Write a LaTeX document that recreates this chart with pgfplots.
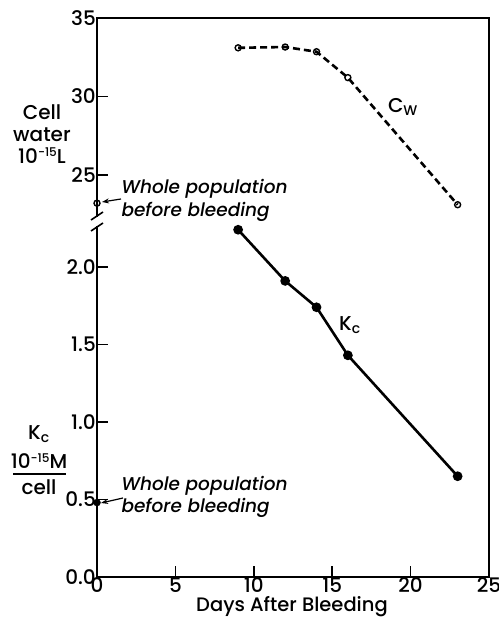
\documentclass[border=0pt]{standalone}
\usepackage{fontspec}
\IfFontExistsTF{Poppins Medium}{\setmainfont{Poppins Medium}}{\setmainfont{Poppins}}
\usepackage{pgfplots}
\pgfplotsset{compat=1.18}
\usetikzlibrary{arrows.meta}
\begin{document}
\begin{tikzpicture}
\useasboundingbox (0pt,0pt) rectangle (498pt,618pt);
\pgfplotsset{
  myaxis/.style={
    scale only axis, width=392pt, xmin=0, xmax=25,
    clip=false,
    axis line style={draw=none},
    /pgf/number format/assume math mode=true,
    tick label style={font=\fontsize{20}{20}\selectfont},
    tick align=inside,
    major tick length=11pt,
    tick style={line width=1.6pt,black},
    xtick pos=lower, ytick pos=left,
  }
}
% lower axis (K_c)
\begin{axis}[myaxis, at={(97pt,41pt)}, anchor=south west, height=355pt,
  ymin=0, ymax=2.29,
  xtick={0,5,10,15,20,25},
  ytick={0,0.5,1,1.5,2}, yticklabels={0.0,0.5,1.0,1.5,2.0},
  yticklabel style={inner sep=1pt},
  xticklabel style={inner sep=0.5pt},
]
\addplot[line width=2.6pt, mark=*, mark size=3.5pt] coordinates {
  (9,2.24) (12,1.91) (14,1.74) (16,1.43) (23,0.65)
};
\addplot[only marks, mark=*, mark size=3.5pt] coordinates {(0,0.48)};
\draw[line width=1.6pt] (axis cs:5,0) -- ++(0pt,11pt);
\draw[line width=1.6pt] (axis cs:10,0) -- ++(0pt,11pt);
\draw[line width=1.6pt] (axis cs:15,0) -- ++(0pt,11pt);
\draw[line width=1.6pt] (axis cs:20,0) -- ++(0pt,11pt);
\draw[line width=1.6pt] (axis cs:0,0.5) -- ++(11pt,0pt);
\draw[line width=1.6pt] (axis cs:0,1) -- ++(11pt,0pt);
\draw[line width=1.6pt] (axis cs:0,1.5) -- ++(11pt,0pt);
\draw[line width=1.6pt] (axis cs:0,2) -- ++(11pt,0pt);
\end{axis}
% upper axis (C_w)
\begin{axis}[myaxis, at={(97pt,396pt)}, anchor=south west, height=204pt,
  ymin=22.0, ymax=35,
  xtick=\empty,
  ytick={25,30,35},
  yticklabel style={inner sep=1pt},
]
\addplot[line width=2.6pt, dash pattern=on 7pt off 4pt,
  mark=o, mark size=3pt, mark options={solid, line width=1.4pt, fill=white}] coordinates {
  (9,33.1) (12,33.15) (14,32.85) (16,31.2) (23,23.1)
};
\addplot[only marks, mark=o, mark size=3pt, mark options={line width=1.4pt, fill=white}] coordinates {(0,23.2)};
\draw[line width=1.6pt] (axis cs:0,25) -- ++(11pt,0pt);
\draw[line width=1.6pt] (axis cs:0,30) -- ++(11pt,0pt);
\end{axis}
% frame with break on the left side
\draw[line width=1.8pt, line cap=rect] (97pt,391pt) -- (97pt,41pt) -- (489pt,41pt) -- (489pt,600pt) -- (97pt,600pt) -- (97pt,402pt);
\draw[line width=1.6pt] (91pt,398pt) -- (103pt,406pt);
\draw[line width=1.6pt] (91pt,387pt) -- (103pt,395pt);
% left labels
\node[align=center, font=\fontsize{20}{22}\selectfont] at (42pt,484pt)
  {Cell\\water\\10\raisebox{0.6ex}{\fontsize{12}{12}\selectfont −15}L};
\node[font=\fontsize{20}{22}\selectfont] at (39pt,184pt) {K\textsubscript{c}};
\node[font=\fontsize{20}{22}\selectfont] at (39pt,157pt) {10\raisebox{0.6ex}{\fontsize{12}{12}\selectfont −15}M};
\draw[line width=1.6pt] (13pt,144pt) -- (66pt,144pt);
\node[font=\fontsize{20}{22}\selectfont] at (39pt,131pt) {cell};
% whole population notes
\node[anchor=west, align=left, font=\fontsize{18.5}{23}\selectfont\itshape] at (118pt,418pt)
  {Whole population\\before bleeding};
\draw[line width=1.2pt, -{Stealth[length=7pt,width=5pt]}] (121pt,419pt) -- (102pt,416pt);
\node[anchor=west, align=left, font=\fontsize{18.5}{22}\selectfont\itshape] at (118pt,121pt)
  {Whole population\\before bleeding};
\draw[line width=1.2pt, -{Stealth[length=7pt,width=5pt]}] (123pt,120pt) -- (101pt,115pt);
% series labels
\node[font=\fontsize{20}{22}\selectfont] at (403pt,511pt) {C\textsubscript{W}};
\node[font=\fontsize{20}{22}\selectfont] at (350pt,293pt) {K\textsubscript{c}};
% x label
\node[anchor=base, font=\fontsize{19.5}{21}\selectfont] at (292pt,6pt) {Days After Bleeding};
\end{tikzpicture}
\end{document}
